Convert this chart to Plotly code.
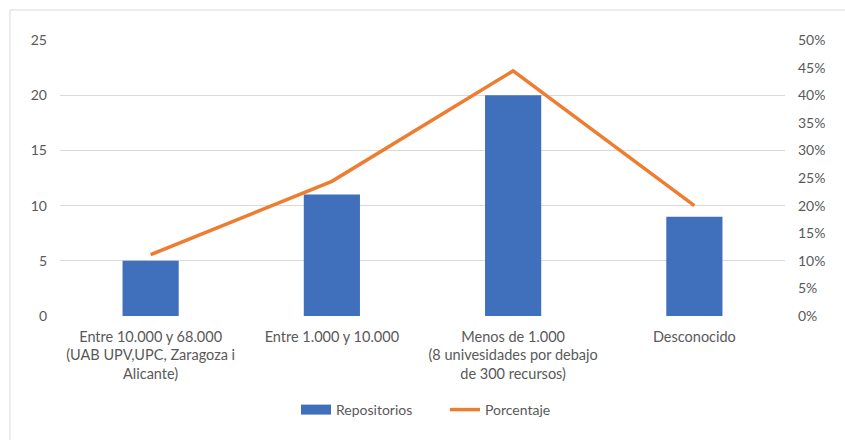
import plotly.graph_objects as go

categories = [
    "Entre 10.000 y 68.000<br>(UAB UPV,UPC, Zaragoza i<br>Alicante)",
    "Entre 1.000 y 10.000",
    "Menos de 1.000<br>(8 univesidades por debajo<br>de 300 recursos)",
    "Desconocido",
]
repositorios = [5, 11, 20, 9]
porcentaje = [0.111, 0.244, 0.444, 0.20]

font_family = "Lato, 'Open Sans', sans-serif"
gray = "#595959"
blue = "#4070BB"
orange = "#ED7D31"

fig = go.Figure()
fig.add_trace(go.Bar(
    x=categories, y=repositorios, name="Repositorios",
    marker=dict(color=blue, line=dict(width=0)),
    yaxis="y", showlegend=False,
))
# legend entry drawn as a wide rectangle like the original
fig.add_trace(go.Scatter(
    x=[None], y=[None], name="Repositorios", mode="lines",
    line=dict(color=blue, width=10), yaxis="y",
))
fig.add_trace(go.Scatter(
    x=categories, y=porcentaje, name="Porcentaje", mode="lines",
    line=dict(color=orange, width=3.5),
    yaxis="y2",
))

W, H = 845, 440
l, r, t, b = 60, 60, 40, 124
pw, ph = W - l - r, H - t - b

fig.update_layout(
    width=W, height=H,
    margin=dict(l=l, r=r, t=t, b=b, pad=0),
    paper_bgcolor="white", plot_bgcolor="white",
    font=dict(family=font_family, size=14, color=gray),
    bargap=0.69,
    showlegend=True,
    legend=dict(orientation="h", x=(296 - l) / pw, xanchor="left",
                y=(t + ph - 410) / ph, yanchor="middle",
                font=dict(size=14, color=gray),
                entrywidth=104, entrywidthmode="pixels",
                traceorder="normal"),
    xaxis=dict(showgrid=False, showline=False, zeroline=False, ticks="",
               tickfont=dict(size=14.5, color=gray), tickangle=0,
               ticklabelstandoff=10),
    yaxis=dict(range=[0, 25], tickvals=[0, 5, 10, 15, 20, 25],
               showgrid=True, gridcolor="#D9D9D9", gridwidth=1,
               zeroline=False, showline=False, ticks="",
               tickfont=dict(size=14, color=gray), ticklabelstandoff=12),
    yaxis2=dict(range=[0, 0.5], overlaying="y", side="right",
                tickvals=[i * 0.05 for i in range(11)], tickformat=".0%",
                showgrid=False, zeroline=False, showline=False, ticks="",
                tickfont=dict(size=14, color=gray), ticklabelstandoff=12),
    shapes=[dict(type="rect", xref="paper", yref="paper",
                 x0=(10 - l) / pw, x1=(W + 5 - l) / pw,
                 y0=-(H + 5 - t - ph) / ph, y1=(t + ph - 10) / ph,
                 line=dict(color="#D9D9D9", width=1), layer="below")],
)

fig.write_html("out.html")
